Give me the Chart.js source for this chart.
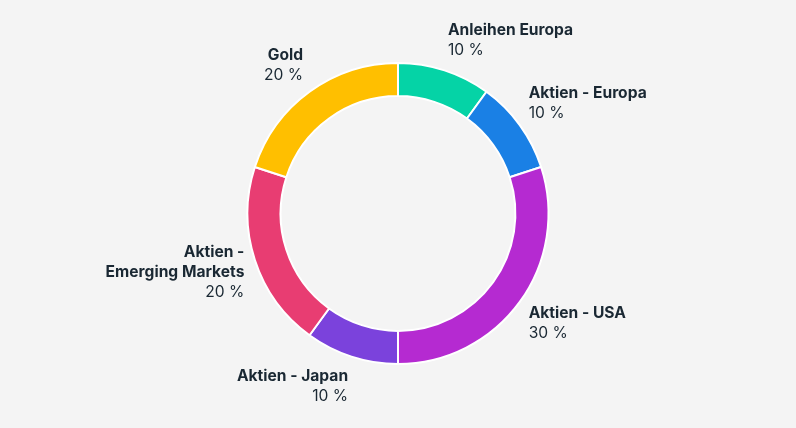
<!DOCTYPE html>
<html>
<head>
<meta charset="utf-8">
<script src="https://cdn.jsdelivr.net/npm/chart.js@4"></script>
<style>
  html, body { margin: 0; padding: 0; background: #f4f4f4; }
  #wrap { width: 796px; height: 428px; }
</style>
</head>
<body>
<div id="wrap"><canvas id="graphic"></canvas></div>
<script>
// categories and shares (%)
let categories = [
    ["Anleihen Europa"],
    ["Aktien - Europa"],
    ["Aktien - USA"],
    ["Aktien - Japan"],
    ["Aktien -", "Emerging Markets"],
    ["Gold"]
];
let shares = [10, 10, 30, 10, 20, 20];
let colors = ["#05d3a6", "#1a80e5", "#b52ad1", "#7b42dc", "#e83d72", "#ffbf00"];

// labels outside the ring, placed at the middle of each slice
let outsideLabels = {
    id: "outsideLabels",
    afterDraw: function (chart) {
        let ctx = chart.ctx;
        let meta = chart.getDatasetMeta(0);
        let lineH = 20;
        ctx.save();
        ctx.fillStyle = "#1a2833";
        ctx.textBaseline = "middle";
        meta.data.forEach(function (arc, i) {
            let a = (arc.startAngle + arc.endAngle) / 2;
            let r = arc.outerRadius + 11;
            let px = arc.x + r * Math.cos(a);
            let py = arc.y + r * Math.sin(a);
            let lines = categories[i].map(function (t) { return { t: t, bold: true }; });
            lines.push({ t: shares[i] + " %", bold: false });
            let h = lines.length * lineH;
            let s = Math.sin(a);
            // push side labels a bit further away from the horizontal
            if (lines.length == 2) s = Math.sign(s) * Math.sqrt(Math.abs(s));
            let top = py - h * (1 - s) / 2;
            ctx.textAlign = Math.cos(a) >= 0 ? "left" : "right";
            lines.forEach(function (l, k) {
                ctx.font = (l.bold ? "700 " : "400 ") + "15.6px Inter";
                ctx.fillText(l.t, px, top + lineH * k + lineH / 2);
            });
        });
        ctx.restore();
    }
};

new Chart(document.getElementById("graphic").getContext("2d"), {
    type: "doughnut",
    data: {
        labels: categories,
        datasets: [{
            data: shares,
            backgroundColor: colors,
            borderColor: "#ffffff",
            borderWidth: 2
        }]
    },
    options: {
        responsive: true,
        maintainAspectRatio: false,
        animation: false,
        cutout: "78%",
        layout: { padding: { top: 62, bottom: 63 } },
        plugins: {
            legend: { display: false },
            tooltip: { enabled: false }
        }
    },
    plugins: [outsideLabels]
});
</script>
</body>
</html>
